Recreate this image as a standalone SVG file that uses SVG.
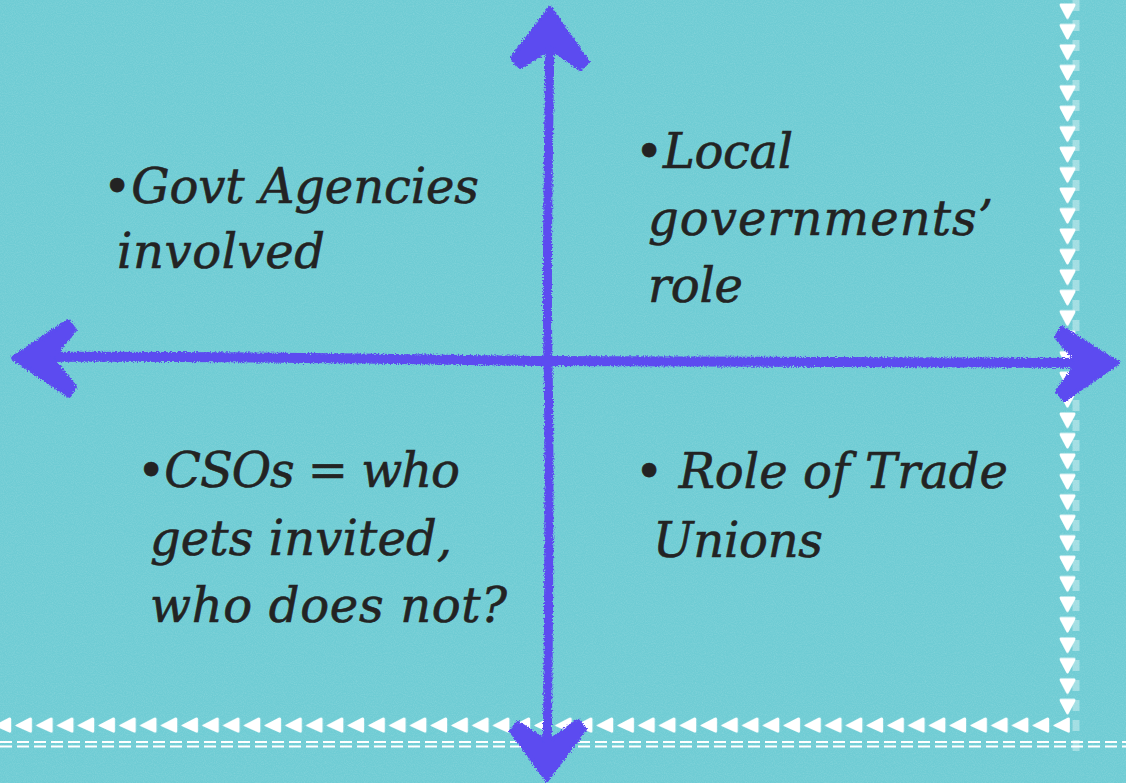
<svg xmlns="http://www.w3.org/2000/svg" width="1126" height="783" viewBox="0 0 1126 783">
  <defs>
    <style>
      .t { font-family: "DejaVu Serif", "Liberation Serif", serif; font-style: italic; font-size: 48px; fill: #232323; stroke: #232323; stroke-width: 0.6; }
      .ax { fill: none; stroke: #5b4cf0; stroke-linecap: round; stroke-linejoin: round; }
      .head { fill: #5b4cf0; stroke: #5b4cf0; stroke-width: 4; stroke-linejoin: round; }
      .tri { fill: #ffffff; }
    </style>
    <filter id="paper" x="0" y="0" width="100%" height="100%">
      <feTurbulence type="fractalNoise" baseFrequency="0.9" numOctaves="2" seed="7" result="n"/>
      <feColorMatrix in="n" type="matrix" values="0 0 0 0 1  0 0 0 0 1  0 0 0 0 1  0.22 0 0 0 -0.08"/>
    </filter>
    <filter id="crayon" x="-2%" y="-2%" width="104%" height="104%">
      <feTurbulence type="fractalNoise" baseFrequency="0.7" numOctaves="2" seed="3" result="n"/>
      <feDisplacementMap in="SourceGraphic" in2="n" scale="5" xChannelSelector="R" yChannelSelector="G"/>
    </filter>
    <pattern id="triDown" x="1059" y="3" width="18" height="20.45" patternUnits="userSpaceOnUse">
      <path class="tri" d="M1.5,0.5 L15.5,0.5 Q17,1 16.3,2.8 L9.5,15.5 Q8.5,16.8 7.5,15.5 L0.8,2.8 Q0,1 1.5,0.5 Z"/>
    </pattern>
    <pattern id="triLeft" x="-5.76" y="717" width="20.76" height="18" patternUnits="userSpaceOnUse">
      <path class="tri" d="M0.6,8 L15,0.6 Q17,0 17,2.2 L17,14 Q17,16.2 15,15.6 L0.6,9 Q0,8.5 0.6,8 Z"/>
    </pattern>
  </defs>

  <rect width="1126" height="783" fill="#6fccd4"/>
  <rect width="1126" height="783" filter="url(#paper)"/>

  <!-- stitched border -->
  <g id="border">
    <rect x="1058" y="0" width="19" height="716" fill="url(#triDown)"/>
    <rect x="0" y="717" width="1070" height="18" fill="url(#triLeft)"/>
    <line x1="1076" y1="0" x2="1076" y2="752" stroke="#ffffff" stroke-opacity="0.35" stroke-width="7" stroke-dasharray="11 9"/>
    <line x1="0" y1="742" x2="1126" y2="742" stroke="#ffffff" stroke-width="2" stroke-dasharray="12 5"/>
    <line x1="0" y1="746.5" x2="1126" y2="746.5" stroke="#ffffff" stroke-width="2" stroke-dasharray="12 5"/>
  </g>

  <!-- connectors: the two crayon axes -->
  <g id="connectors" filter="url(#crayon)">
    <path class="ax" stroke-width="9" d="M550,16 C549,150 546,250 548,360 S549,600 547,770"/>
    <path class="ax" stroke-width="10" d="M18,357 C300,356 450,360 548,361 S900,362 1112,363"/>
    <path class="head" d="M550,8 L588,62 L580,69 L551,48 L520,67 L512,58 Z"/>
    <path class="head" d="M547,780 L511,731 L518,723 L548,742 L578,721 L585,729 Z"/>
    <path class="head" d="M13,358 L68,321 L75,330 L52,358 L75,387 L69,396 Z"/>
    <path class="head" d="M1118,363 L1062,328 L1056,337 L1078,363 L1057,391 L1064,400 Z"/>
  </g>

  <g id="node-govt">
    <text class="t" x="103" y="203" textLength="376">•Govt Agencies</text>
    <text class="t" x="117" y="268" textLength="208">involved</text>
  </g>
  <g id="node-local">
    <text class="t" x="635" y="168" textLength="158">•Local</text>
    <text class="t" x="648" y="235" textLength="345">governments’</text>
    <text class="t" x="648" y="302" textLength="95">role</text>
  </g>
  <g id="node-cso">
    <text class="t" x="137" y="487" textLength="323">•CSOs = who</text>
    <text class="t" x="150" y="555" textLength="302">gets invited,</text>
    <text class="t" x="150" y="622" textLength="357">who does not?</text>
  </g>
  <g id="node-unions">
    <text class="t" x="635" y="488" textLength="373">• Role of Trade</text>
    <text class="t" x="653" y="557" textLength="170">Unions</text>
  </g>
</svg>
